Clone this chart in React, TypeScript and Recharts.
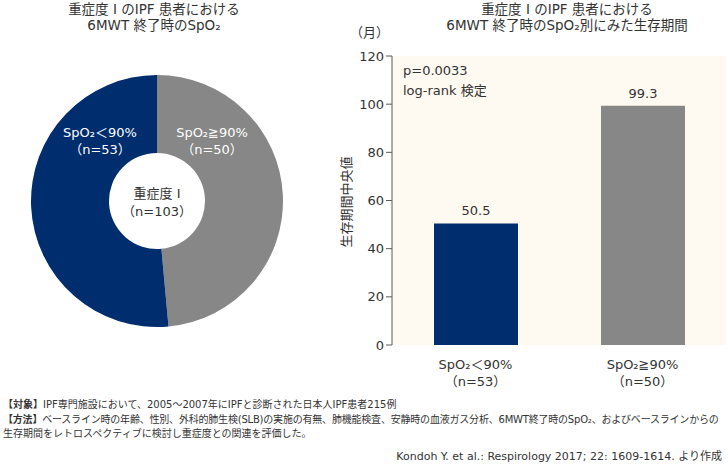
import React from 'react';
import {
  PieChart, Pie, Cell, BarChart, Bar, XAxis, YAxis, CartesianGrid, LabelList,
} from 'recharts';

// 円グラフ：6MWT終了時のSpO2
const pieNames = ['SpO₂≧90%', 'SpO₂＜90%'];
const pieCounts = [50, 53];
const pieColors = ['#878787', '#002d6e'];

// 棒グラフ：生存期間中央値（月）
const barCategories = ['SpO₂＜90%', 'SpO₂≧90%'];
const barN = ['（n=53）', '（n=50）'];
const medianSurvival = [50.5, 99.3];
const barColors = ['#002d6e', '#878787'];
const yTicks = [0, 20, 40, 60, 80, 100, 120];
const edgeTicks = [0, 1, 2];

const FONT = '"DejaVu Sans", "Noto Sans CJK JP", sans-serif';
const TEXT = '#333333';
const AXIS = '#5a5a5a';
const RAD = Math.PI / 180;

const pieData = pieNames.map((name, i) => ({ name, value: pieCounts[i] }));
const barData = barCategories.map((name, i) => ({ name, n: barN[i], value: medianSurvival[i] }));

const renderPieLabel = (props: any) => {
  const { cx, cy, midAngle, index } = props;
  const side = Math.cos(-midAngle * RAD) >= 0 ? 1 : -1;
  const x = cx + (side > 0 ? 55 : -57);
  return (
    <text x={x} y={cy - 64} textAnchor="middle" fill="#ffffff" fontSize={13} fontFamily={FONT}>
      <tspan x={x} dy={0}>{pieData[index].name}</tspan>
      <tspan x={x} dy={17}>{`（n=${pieData[index].value}）`}</tspan>
    </text>
  );
};

const CategoryTick = (props: any) => {
  const { x, y, payload } = props;
  const row = barData[payload.index];
  return (
    <text x={x} y={y} textAnchor="middle" fill={TEXT} fontSize={13} fontFamily={FONT}>
      <tspan x={x} dy={16}>{row.name}</tspan>
      <tspan x={x} dy={17}>{row.n}</tspan>
    </text>
  );
};

const abs = (left: number, top: number, extra: React.CSSProperties = {}): React.CSSProperties => ({
  position: 'absolute', left, top, ...extra,
});

export default function App() {
  return (
    <div style={{ position: 'absolute', left: 0, top: 0, width: 728, height: 464, background: '#fff', fontFamily: FONT, color: TEXT, overflow: 'hidden' }}>
      {/* 左タイトル */}
      <div style={abs(4, 1, { width: 300, textAlign: 'center', fontSize: 13.5, lineHeight: '16px', whiteSpace: 'nowrap' })}>
        重症度 Ⅰ のIPF 患者における<br />6MWT 終了時のSpO₂
      </div>
      {/* 右タイトル */}
      <div style={abs(417, 1, { width: 300, textAlign: 'center', fontSize: 13.5, lineHeight: '16px', whiteSpace: 'nowrap' })}>
        重症度 Ⅰ のIPF 患者における<br />6MWT 終了時のSpO₂別にみた生存期間
      </div>

      <div style={abs(7, 51)}>
        <PieChart width={300} height={300} margin={{ top: 0, right: 0, bottom: 0, left: 0 }}>
          <Pie
            data={pieData}
            dataKey="value"
            nameKey="name"
            cx={150}
            cy={150}
            innerRadius={48}
            outerRadius={126}
            startAngle={90}
            endAngle={-270}
            stroke="none"
            label={renderPieLabel}
            labelLine={false}
            isAnimationActive={false}
          >
            {pieData.map((d, i) => <Cell key={d.name} fill={pieColors[i]} />)}
          </Pie>
        </PieChart>
      </div>
      <div style={abs(97, 185, { width: 120, textAlign: 'center', fontSize: 13, lineHeight: '18px' })}>
        重症度 Ⅰ<br />（n=103）
      </div>

      <div style={abs(330, 0)}>
        <BarChart width={398} height={390} data={barData} margin={{ top: 56, right: 2, bottom: 0, left: 0 }}>
          <CartesianGrid xAxisId="cat" horizontal={false} vertical={false} fill="#fffaf1" stroke="none" />
          <XAxis
            xAxisId="edge"
            type="number"
            domain={[0, 2]}
            ticks={edgeTicks}
            tick={false}
            height={0}
            tickSize={6}
            axisLine={{ stroke: AXIS }}
            tickLine={{ stroke: AXIS }}
          />
          <XAxis
            xAxisId="cat"
            dataKey="name"
            height={45}
            axisLine={false}
            tickLine={false}
            tick={<CategoryTick />}
            interval={0}
          />
          <YAxis
            width={62}
            domain={[0, 120]}
            ticks={yTicks}
            interval={0}
            tickSize={6}
            tick={{ fill: TEXT, fontSize: 13, fontFamily: FONT }}
            axisLine={{ stroke: AXIS }}
            tickLine={{ stroke: AXIS }}
          />
          <Bar xAxisId="cat" dataKey="value" barSize={84} isAnimationActive={false}>
            {barData.map((d, i) => <Cell key={d.name} fill={barColors[i]} />)}
            <LabelList dataKey="value" position="top" offset={8} fill={TEXT} fontSize={13} fontFamily={FONT} />
          </Bar>
        </BarChart>
      </div>

      {/* 単位・軸ラベル */}
      <div style={abs(350, 22, { fontSize: 13 })}>（月）</div>
      <div style={abs(345, 202, { fontSize: 13, whiteSpace: 'nowrap', transform: 'translate(-50%, -50%) rotate(-90deg)' })}>
        生存期間中央値
      </div>

      {/* 検定結果 */}
      <div style={abs(403, 61, { fontSize: 13, lineHeight: '20px' })}>
        p=0.0033<br />log-rank 検定
      </div>

      {/* 脚注 */}
      <div style={abs(3, 398, { fontSize: 10, lineHeight: '14.5px', whiteSpace: 'nowrap' })}>
        <div><b>【対象】</b>IPF専門施設において、2005～2007年にIPFと診断された日本人IPF患者215例</div>
        <div style={{ letterSpacing: '-0.2px' }}><b>【方法】</b>ベースライン時の年齢、性別、外科的肺生検(SLB)の実施の有無、肺機能検査、安静時の血液ガス分析、6MWT終了時のSpO₂、およびベースラインからの</div>
        <div>生存期間をレトロスペクティブに検討し重症度との関連を評価した。</div>
      </div>
      <div style={abs(0, 447, { width: 722, textAlign: 'right', fontSize: 11, whiteSpace: 'nowrap' })}>
        Kondoh Y. et al.: Respirology 2017; 22: 1609-1614. より作成
      </div>
    </div>
  );
}
